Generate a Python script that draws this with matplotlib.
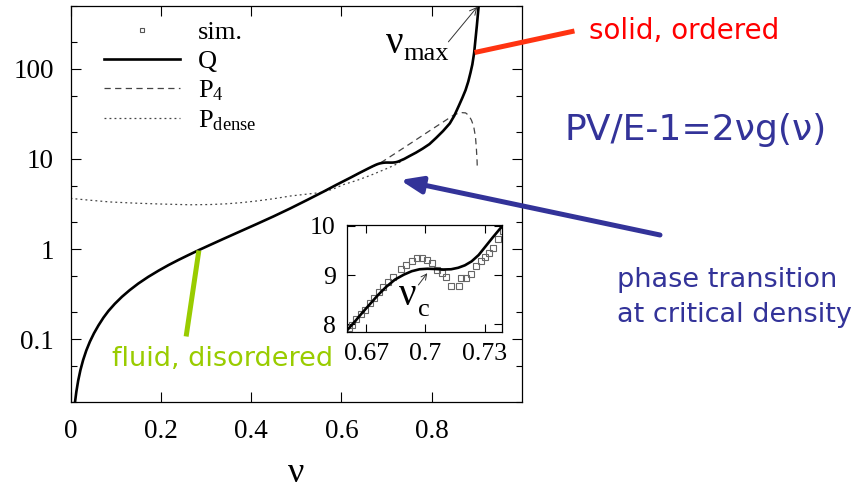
import numpy as np
import matplotlib.pyplot as plt
from matplotlib.lines import Line2D
from matplotlib.patches import FancyArrowPatch
from matplotlib.ticker import LogLocator, NullFormatter

plt.rcParams['font.family'] = ['Liberation Serif', 'DejaVu Serif']
plt.rcParams['mathtext.fontset'] = 'custom'
plt.rcParams['mathtext.rm'] = 'Liberation Serif'
plt.rcParams['mathtext.it'] = 'Liberation Serif:italic'
plt.rcParams['mathtext.bf'] = 'Liberation Serif:bold'

# Q curve
q_nu = [0.010, 0.013, 0.017, 0.022, 0.028, 0.035, 0.043, 0.052, 0.062, 0.073,
        0.084, 0.098, 0.114, 0.131, 0.150, 0.172, 0.195, 0.217, 0.239, 0.261,
        0.285, 0.310, 0.339, 0.375, 0.413, 0.450, 0.487, 0.524, 0.561, 0.590,
        0.620, 0.640, 0.660, 0.664, 0.668, 0.672, 0.676, 0.680, 0.6845, 0.689,
        0.693, 0.697, 0.701, 0.705, 0.709, 0.713, 0.7166, 0.720, 0.7234, 0.727,
        0.730, 0.734, 0.739, 0.750, 0.765, 0.780, 0.795, 0.810, 0.825, 0.840,
        0.850, 0.860, 0.868, 0.875, 0.881, 0.886, 0.890, 0.894, 0.897, 0.900,
        0.902, 0.904]
q_val = [0.0200, 0.0261, 0.0345, 0.0453, 0.0586, 0.0747, 0.0937, 0.116, 0.142, 0.173,
         0.205, 0.246, 0.295, 0.349, 0.413, 0.490, 0.575, 0.663, 0.756, 0.856,
         0.977, 1.115, 1.298, 1.563, 1.901, 2.308, 2.829, 3.502, 4.354, 5.198,
         6.2, 7.0, 7.87, 8.05, 8.24, 8.42, 8.60, 8.76, 8.91, 9.01,
         9.08, 9.12, 9.13, 9.125, 9.115, 9.12, 9.15, 9.20, 9.28, 9.41,
         9.56, 9.76, 10.0, 10.72, 11.75, 13.03, 14.62, 17.18, 20.4, 24.8,
         30.2, 38.9, 47.9, 58.2, 72.4, 91.2, 112.0, 151.0, 214.0, 302.0,
         389.0, 501.0]

# P4 (dashed), runs under Q at low density
p4_nu = [0.561, 0.620, 0.660, 0.6845, 0.720, 0.760, 0.800, 0.835, 0.849, 0.856,
         0.867, 0.875, 0.882, 0.888, 0.893, 0.897, 0.899, 0.9005, 0.901]
p4_val = [4.354, 6.2, 7.87, 8.91, 11.6, 15.7, 21.3, 27.7, 30.8, 31.8,
          32.7, 32.5, 30.5, 27.0, 23.0, 17.5, 13.0, 9.5, 7.9]

# P_dense (dotted)
pd_nu = [0.0, 0.044, 0.088, 0.145, 0.200, 0.265, 0.310, 0.347, 0.380, 0.413,
         0.450, 0.487, 0.520, 0.553, 0.580, 0.605, 0.635, 0.665, 0.686, 0.705,
         0.723, 0.734, 0.739]
pd_val = [3.65, 3.48, 3.33, 3.23, 3.16, 3.10, 3.12, 3.18, 3.28, 3.42,
          3.62, 3.88, 4.05, 4.23, 4.6, 5.2, 5.8, 6.6, 7.3, 8.0,
          8.8, 9.55, 10.0]

# simulation points (inset)
sim_nu = [0.6610, 0.6627, 0.6648, 0.6671, 0.6693, 0.6717, 0.6739, 0.6762, 0.6786,
          0.6808, 0.6834, 0.6877, 0.6903, 0.6929, 0.6955, 0.6980, 0.7006, 0.7032,
          0.7058, 0.7084, 0.7104, 0.7130, 0.7169, 0.7182, 0.7204, 0.7230, 0.7255,
          0.7281, 0.7302, 0.7324, 0.7342, 0.7368, 0.7393]
sim_val = [7.93, 7.99, 8.10, 8.20, 8.30, 8.44, 8.54, 8.66, 8.76,
           8.86, 8.96, 9.12, 9.20, 9.29, 9.34, 9.35, 9.30, 9.25,
           9.10, 9.05, 8.96, 8.78, 8.78, 8.95, 8.94, 9.03, 9.18,
           9.29, 9.37, 9.46, 9.56, 9.73, 9.90]

W, H = 859, 492
fig = plt.figure(figsize=(W / 100, H / 100), dpi=100)


def fx(x):
    return x / W


def fy(y):
    return 1 - y / H


# main plot
ax = fig.add_axes([fx(70.5), fy(402), (522 - 70.5) / W, (402 - 6) / H])
ax.plot(pd_nu, pd_val, color='#444444', lw=0.9, ls=(0, (1.5, 2.5)))
ax.plot(p4_nu, p4_val, color='#444444', lw=0.9, ls=(0, (5, 3.5)))
ax.plot(q_nu, q_val, color='black', lw=1.9)

ax.set_yscale('log')
ax.set_xlim(0, 1)
ax.set_ylim(0.02, 500)
ax.set_xticks([0, 0.2, 0.4, 0.6, 0.8])
ax.set_xticklabels(['0', '0.2', '0.4', '0.6', '0.8'])
ax.set_yticks([0.1, 1, 10, 100])
ax.set_yticklabels(['0.1', '1', '10', '100'])
ax.yaxis.set_minor_locator(LogLocator(base=10, subs=(2, 5)))
ax.yaxis.set_minor_formatter(NullFormatter())
ax.tick_params(which='both', direction='in', top=True, right=True, width=0.8,
               labelsize=19.5, pad=12)
ax.tick_params(which='major', length=7)
ax.tick_params(which='minor', length=4)
for s in ax.spines.values():
    s.set_linewidth(0.9)
# x axis label
fig.text(fx(296), fy(482), 'ν', fontsize=26, ha='center', va='baseline')

handles = [
    Line2D([], [], ls='none', marker='s', mfc='none', mec='#555555', ms=3.5, mew=0.8),
    Line2D([], [], color='black', lw=1.9),
    Line2D([], [], color='#444444', lw=0.9, ls=(0, (5, 3.5))),
    Line2D([], [], color='#444444', lw=0.9, ls=(0, (1.5, 2.5))),
]
labels = ['sim.', 'Q', 'P$_4$', 'P$_{\\rm dense}$']
ax.legend(handles, labels, loc='upper left', bbox_to_anchor=(0.074, 0.963),
          frameon=False, fontsize=19, handlelength=2.9, handletextpad=0.65,
          labelspacing=0.2, borderaxespad=0, borderpad=0, numpoints=1)

# nu_max label and arrow
fig.text(fx(386), fy(53), 'ν', fontsize=28, ha='left', va='baseline')
fig.text(fx(403), fy(60), 'max', fontsize=19, ha='left', va='baseline')
ax.annotate('', xy=(0.901, 489), xytext=(0.837, 200),
            arrowprops=dict(arrowstyle='->,head_length=0.5,head_width=0.25',
                            lw=0.7, color='#333333', shrinkA=0, shrinkB=0))

# inset
axin = fig.add_axes([fx(346.7), fy(331.7), (502.3 - 346.7) / W, (331.7 - 225) / H])
axin.plot(sim_nu, sim_val, ls='none', marker='s', mfc='none', mec='#666666',
          ms=5, mew=0.8)
axin.plot(q_nu, q_val, color='black', lw=1.9)
axin.set_xlim(0.66, 0.739)
axin.set_ylim(7.85, 10.02)
axin.set_xticks([0.67, 0.70, 0.73])
axin.set_xticklabels(['0.67', '0.7', '0.73'])
axin.set_yticks([8, 9, 10])
axin.tick_params(direction='in', top=True, right=True, length=6, width=0.8,
                 labelsize=18.5, pad=8)
for s in axin.spines.values():
    s.set_linewidth(0.9)
fig.text(fx(399), fy(305), 'ν', fontsize=28, ha='left', va='baseline')
fig.text(fx(418), fy(316.5), 'c', fontsize=19, ha='left', va='baseline')
axin.annotate('', xy=(0.7009, 9.04), xytext=(0.6964, 8.80),
              arrowprops=dict(arrowstyle='->,head_length=0.4,head_width=0.2',
                              lw=0.7, color='#333333', shrinkA=0, shrinkB=0))

# slide annotations
green = '#99CC00'
blue = '#333399'
fig.add_artist(Line2D([fx(477), fx(572)], [fy(52), fy(31.5)], color='#FF3311', lw=3.6))
fig.text(fx(589), fy(38.5), 'solid, ordered', color='#FF0000', fontsize=20,
         family='DejaVu Sans', ha='left', va='baseline')

fig.add_artist(Line2D([fx(198.5), fx(186.5)], [fy(253), fy(334)], color=green, lw=3.6))
fig.text(fx(112), fy(366), 'fluid, disordered', color=green, fontsize=19.5,
         family='DejaVu Sans', ha='left', va='baseline')

fig.text(fx(565), fy(140), 'PV/E-1=2νg(ν)', color=blue, fontsize=26,
         family='DejaVu Sans', ha='left', va='baseline')

arrow = FancyArrowPatch((fx(660), fy(235)), (fx(400), fy(180)),
                        transform=fig.transFigure,
                        arrowstyle='-|>,head_length=1.3,head_width=0.5',
                        mutation_scale=10, lw=3.6, color=blue,
                        shrinkA=0, shrinkB=0)
fig.add_artist(arrow)
fig.text(fx(617), fy(287), 'phase transition', color=blue, fontsize=19.5,
         family='DejaVu Sans', ha='left', va='baseline')
fig.text(fx(617), fy(321.5), 'at critical density', color=blue, fontsize=19.5,
         family='DejaVu Sans', ha='left', va='baseline')

fig.savefig('out.png', dpi=100)
